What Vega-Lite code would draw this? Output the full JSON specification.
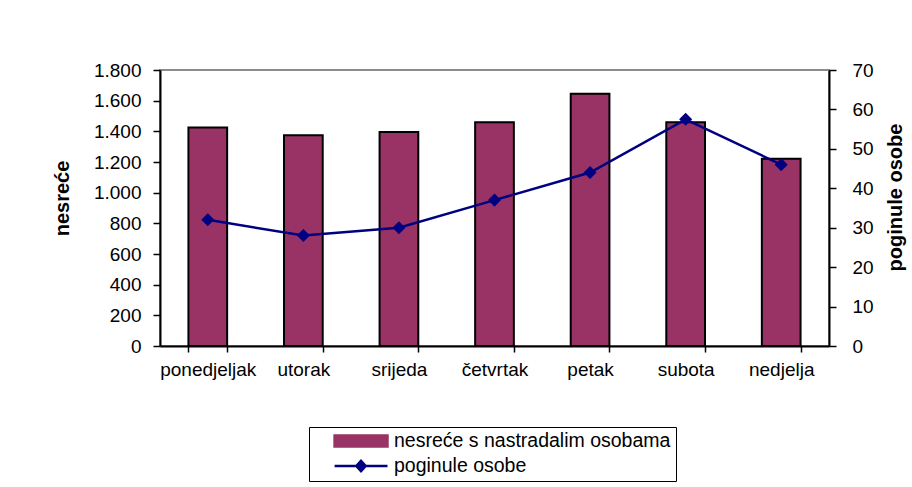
{
  "$schema": "https://vega.github.io/schema/vega-lite/v6.json",
  "width": 669,
  "height": 276,
  "autosize": "none",
  "padding": {"left": 160, "top": 70, "right": 83, "bottom": 141},
  "background": "white",
  "config": {
    "font": "Liberation Sans",
    "view": {"stroke": "#8c8c8c", "strokeWidth": 2},
    "axis": {
      "labelFont": "Liberation Sans",
      "labelFontSize": 19,
      "labelColor": "black",
      "titleFont": "Liberation Sans",
      "titleFontSize": 20,
      "titleFontWeight": "bold",
      "titleColor": "black",
      "domainColor": "black",
      "domainWidth": 2,
      "tickColor": "black",
      "tickWidth": 1.5,
      "grid": false
    }
  },
  "data": {
    "values": [
      {"dan": "ponedjeljak", "nesrece": 1425, "poginuli": 32},
      {"dan": "utorak", "nesrece": 1375, "poginuli": 28},
      {"dan": "srijeda", "nesrece": 1395, "poginuli": 30},
      {"dan": "četvrtak", "nesrece": 1460, "poginuli": 37},
      {"dan": "petak", "nesrece": 1645, "poginuli": 44},
      {"dan": "subota", "nesrece": 1460, "poginuli": 57.5},
      {"dan": "nedjelja", "nesrece": 1222, "poginuli": 46}
    ]
  },
  "encoding": {
    "x": {
      "field": "dan",
      "type": "nominal",
      "sort": null,
      "scale": {"paddingInner": 0.595, "paddingOuter": 0.2975},
      "axis": {
        "title": null,
        "labelAngle": 0,
        "tickBand": "extent",
        "tickSize": 6,
        "labelPadding": 8
      }
    }
  },
  "layer": [
    {
      "mark": {"type": "bar", "stroke": "black", "strokeWidth": 2},
      "encoding": {
        "y": {
          "field": "nesrece",
          "type": "quantitative",
          "scale": {"domain": [0, 1800], "nice": false},
          "axis": {
            "title": "nesreće",
            "values": [0, 200, 400, 600, 800, 1000, 1200, 1400, 1600, 1800],
            "labelExpr": "replace(format(datum.value, ','), ',', '.')",
            "tickSize": 7,
            "labelPadding": 12,
            "titleX": -98,
            "titleY": 128,
            "titleAngle": -90,
            "titleAlign": "center",
            "titleBaseline": "middle"
          }
        },
        "color": {
          "datum": "nesreće s nastradalim osobama",
          "scale": {
            "domain": ["nesreće s nastradalim osobama", "poginule osobe"],
            "range": ["#993366", "#000080"]
          },
          "legend": {
            "title": null,
            "orient": "none",
            "legendX": 149,
            "legendY": 357,
            "direction": "vertical",
            "padding": 5,
            "strokeColor": "black",
            "fillColor": "white",
            "labelFont": "Liberation Sans",
            "labelFontSize": 19.5,
            "labelColor": "black",
            "labelOffset": 5,
            "labelLimit": 400,
            "labelExpr": "datum.label + '   '",
            "symbolSize": 5184,
            "clipHeight": 18,
            "rowPadding": 5,
            "symbolType": {"expr": "datum.value === 'poginule osobe' ? 'M-0.47,0L1,0M0.264,-0.14L0.394,0L0.264,0.14L0.134,0Z' : 'M-0.47,-0.15L1,-0.15L1,0.15L-0.47,0.15Z'"},
            "symbolFillColor": {"expr": "datum.value === 'poginule osobe' ? '#000080' : '#993366'"},
            "symbolStrokeColor": {"expr": "datum.value === 'poginule osobe' ? '#000080' : 'black'"},
            "symbolStrokeWidth": 2.5,
            "symbolOpacity": 1
          }
        }
      }
    },
    {
      "mark": {
        "type": "line",
        "strokeWidth": 2.5,
        "point": {"filled": true, "shape": "diamond", "size": 170, "opacity": 1}
      },
      "encoding": {
        "y": {
          "field": "poginuli",
          "type": "quantitative",
          "scale": {"domain": [0, 70], "nice": false},
          "axis": {
            "orient": "right",
            "title": "poginule osobe",
            "values": [0, 10, 20, 30, 40, 50, 60, 70],
            "tickSize": 7,
            "labelPadding": 16,
            "titleX": 66,
            "titleY": 127,
            "titleAngle": -90,
            "titleAlign": "center",
            "titleBaseline": "middle"
          }
        },
        "color": {"datum": "poginule osobe"}
      }
    }
  ],
  "resolve": {"scale": {"y": "independent"}}
}
